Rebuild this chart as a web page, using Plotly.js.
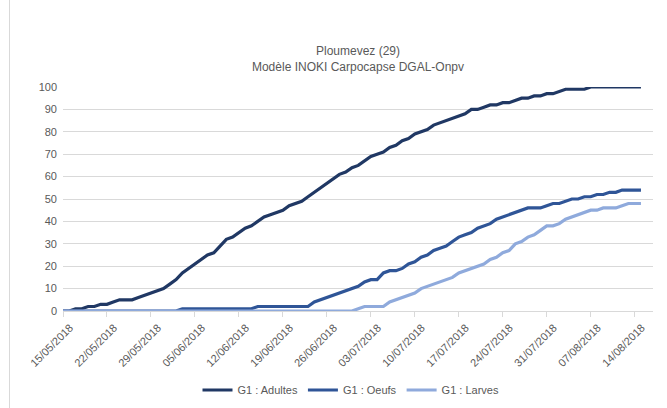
<!DOCTYPE html>
<html>
<head>
<meta charset="utf-8">
<script src="https://cdn.plot.ly/plotly-3.0.1.min.js"></script>
<style>
  html, body { margin: 0; padding: 0; background: #fff; }
  #frame { position: absolute; left: 9px; top: 0; width: 1px; height: 408px; background: #d9d9d9; }
  #chart { width: 667px; height: 408px; }
</style>
</head>
<body>
<div id="chart"></div>
<div id="frame"></div>
<script>
// ---- data ----
const startDate = '2018-05-15';
const adultes = [0,0,1,1,2,2,3,3,4,5,5,5,6,7,8,9,10,12,14,17,19,
  21,23,25,26,29,32,33,35,37,38,40,42,43,44,45,47,48,49,51,53,55,57,59,61,62,64,65,67,
  69,70,71,73,74,76,77,79,80,81,83,84,85,86,87,88,90,90,91,92,92,93,93,94,95,95,96,96,97,97,98,99,99,99,99,
  100,100,100,100,100,100,100,100,100];
const oeufs = [0,0,0,0,0,0,0,0,0,0,0,0,0,0,0,0,0,0,0,
  1,1,1,1,1,1,1,1,1,1,1,1,
  2,2,2,2,2,2,2,2,2,
  4,5,6,7,8,9,10,11,13,14,14,17,18,18,19,21,22,24,25,27,28,29,31,33,34,35,37,38,39,41,42,43,44,45,46,46,46,47,48,48,49,50,50,51,51,52,52,53,53,54,54,54,54];
const larves = [0,0,0,0,0,0,0,0,0,0,0,0,0,0,0,0,0,0,0,0,0,0,0,0,0,0,0,0,0,0,0,0,0,0,0,0,0,0,0,0,0,0,0,0,0,0,0,
  1,2,2,2,2,4,5,6,7,8,10,11,12,13,14,15,17,18,19,20,21,23,24,26,27,30,31,33,34,36,38,38,39,41,42,43,44,45,45,46,46,46,47,48,48,48];
const seriesNames = ['G1 : Adultes', 'G1 : Oeufs', 'G1 : Larves'];
const tickDates = ['2018-05-15','2018-05-22','2018-05-29','2018-06-05','2018-06-12','2018-06-19','2018-06-26',
  '2018-07-03','2018-07-10','2018-07-17','2018-07-24','2018-07-31','2018-08-07','2018-08-14'];
const tickLabels = ['15/05/2018','22/05/2018','29/05/2018','05/06/2018','12/06/2018','19/06/2018','26/06/2018',
  '03/07/2018','10/07/2018','17/07/2018','24/07/2018','31/07/2018','07/08/2018','14/08/2018'];
const yTicks = [0,10,20,30,40,50,60,70,80,90,100];

// consecutive daily dates for the observations
function dailyDates(start, n) {
  const out = [];
  const d0 = new Date(start + 'T00:00:00Z');
  for (let i = 0; i < n; i++) {
    const d = new Date(d0.getTime() + i * 86400000);
    out.push(d.toISOString().slice(0, 10));
  }
  return out;
}

const colors = ['#203864', '#2f5597', '#8faadc'];
const values = [adultes, oeufs, larves];
const traces = values.map((v, i) => ({
  type: 'scatter', mode: 'lines',
  x: dailyDates(startDate, v.length), y: v,
  name: seriesNames[i],
  line: { color: colors[i], width: 3.2 },
  hoverinfo: 'skip'
}));

const font = 'Liberation Sans, Arial, sans-serif';
const layout = {
  width: 667, height: 408,
  margin: { l: 63, r: 14, t: 87, b: 97 },
  paper_bgcolor: '#ffffff', plot_bgcolor: '#ffffff',
  font: { family: font, color: '#595959', size: 11 },
  title: {
    text: 'Ploumevez (29)<br>Modèle INOKI Carpocapse DGAL-Onpv',
    font: { family: font, size: 12, color: '#595959' },
    x: 0.5, xref: 'paper', xanchor: 'center',
    y: 1 - 55 / 408, yref: 'container', yanchor: 'middle'
  },
  xaxis: {
    type: 'date',
    range: ['2018-05-15', '2018-08-16 22:00'],
    tickmode: 'array', tickvals: tickDates, ticktext: tickLabels,
    tickangle: -45,
    ticklabelshift: 7,
    ticks: 'outside', ticklen: 5, tickcolor: '#d9d9d9', tickwidth: 1,
    showline: true, linecolor: '#d9d9d9', linewidth: 1,
    showgrid: false, zeroline: false,
    tickfont: { family: font, size: 11, color: '#595959' }
  },
  yaxis: {
    range: [0, 100],
    tickmode: 'array', tickvals: yTicks,
    showgrid: true, gridcolor: '#d9d9d9', gridwidth: 1,
    zeroline: false, showline: false, ticks: '',
    ticklabelstandoff: 5,
    tickfont: { family: font, size: 11, color: '#595959' }
  },
  showlegend: true,
  legend: {
    orientation: 'h', x: 351 / 667, xref: 'container', xanchor: 'center',
    y: 18 / 408, yref: 'container', yanchor: 'middle',
    font: { family: font, size: 11, color: '#595959' },
    itemwidth: 30, tracegroupgap: 0
  }
};

Plotly.newPlot('chart', traces, layout, { staticPlot: true, displayModeBar: false });
</script>
</body>
</html>
